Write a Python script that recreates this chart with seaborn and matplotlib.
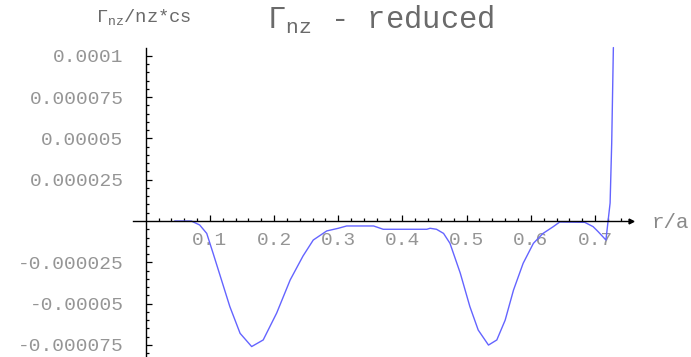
import numpy as np
import pandas as pd
import matplotlib
matplotlib.use("Agg")
import matplotlib.pyplot as plt
from matplotlib.ticker import FixedLocator, FixedFormatter
import seaborn as sns

# ---- data ----
r_over_a = [0.045, 0.071, 0.084, 0.095, 0.105, 0.118, 0.131, 0.147, 0.165, 0.183,
            0.204, 0.225, 0.245, 0.261, 0.282, 0.300, 0.313, 0.355, 0.370, 0.438,
            0.443, 0.453, 0.464, 0.474, 0.490, 0.505, 0.518, 0.534, 0.547, 0.560,
            0.573, 0.588, 0.604, 0.619, 0.635, 0.645, 0.684, 0.697, 0.705, 0.717,
            0.7235, 0.726, 0.7286]
gamma_micro = [0.0, 0.0, -2.4, -7.5, -19.6, -35.7, -51.8, -68.0, -76.0, -72.0,
               -55.7, -35.7, -21.2, -11.5, -6.0, -4.4, -3.0, -3.0, -5.0, -5.0,
               -4.4, -5.0, -7.5, -13.5, -31.5, -51.8, -66.0, -75.1, -72.0, -60.0,
               -41.8, -25.6, -13.5, -7.5, -3.4, -0.6, -0.8, -3.4, -6.5, -11.5,
               10.9, 47.2, 105.0]
gamma = [v * 1e-6 for v in gamma_micro]

x_ticks = [0.1, 0.2, 0.3, 0.4, 0.5, 0.6, 0.7]
x_tick_labels = ["0.1", "0.2", "0.3", "0.4", "0.5", "0.6", "0.7"]
y_ticks = [-0.000075, -0.00005, -0.000025, 0.000025, 0.00005, 0.000075, 0.0001]
y_tick_labels = ["-0.000075", "-0.00005", "-0.000025", "0.000025", "0.00005",
                 "0.000075", "0.0001"]

title_text = r"$\Gamma_{\mathrm{nz}}$ - reduced"
ylabel_text = r"$\Gamma_{\mathrm{nz}}$/nz*cs"
xlabel_text = "r/a"

df = pd.DataFrame({"r": r_over_a, "g": gamma})

sns.set_style("white")
plt.rcParams["font.family"] = ["Liberation Mono", "DejaVu Sans"]
plt.rcParams["mathtext.fontset"] = "custom"
plt.rcParams["mathtext.rm"] = "Liberation Mono"
plt.rcParams["mathtext.it"] = "Liberation Mono"
plt.rcParams["mathtext.bf"] = "Liberation Mono"

W, H = 691, 357
fig = plt.figure(figsize=(W / 100, H / 100), dpi=100)
ax = fig.add_axes([126.5 / W, 0.0, 532.7 / W, 321.0 / H])

sns.lineplot(data=df, x="r", y="g", ax=ax, sort=False, estimator=None,
             color="#6464ff", linewidth=1.0, clip_on=True)

ax.set_xlim(-0.03, 0.80)
ax.set_ylim(-8.232e-5, 1.12e-4)

for s in ["top", "right"]:
    ax.spines[s].set_visible(False)
ax.spines["left"].set_position(("data", 0))
ax.spines["bottom"].set_position(("data", 0))
ax.spines["left"].set_bounds(-8.232e-5, 1.047e-4)
ax.spines["bottom"].set_bounds(-0.02, 0.756)
for s in ["left", "bottom"]:
    ax.spines[s].set_color("black")
    ax.spines[s].set_linewidth(1.0)

# arrow head at the end of the horizontal axis
ax.plot([0.756], [0], marker=">", color="black", markersize=3.5, clip_on=False)

ax.xaxis.set_major_locator(FixedLocator(x_ticks))
ax.xaxis.set_major_formatter(FixedFormatter(x_tick_labels))
ax.xaxis.set_minor_locator(FixedLocator([round(0.02 * i, 2) for i in range(1, 38) if i % 5 != 0]))
ax.yaxis.set_major_locator(FixedLocator(y_ticks))
ax.yaxis.set_major_formatter(FixedFormatter(y_tick_labels))
ax.yaxis.set_minor_locator(FixedLocator([round(5e-6 * i, 8) for i in range(-16, 21) if i % 5 != 0]))

ax.tick_params(axis="both", which="both", bottom=True, left=True, top=False, right=False)
ax.tick_params(axis="both", which="major", direction="in", length=4.5, width=0.9,
               color="black", labelsize=14, labelcolor="#959595")
ax.tick_params(axis="both", which="minor", direction="in", length=2.2, width=0.9,
               color="black")
ax.tick_params(axis="x", which="major", pad=8)
ax.tick_params(axis="y", which="major", pad=16)
ax.set_xlabel("")
ax.set_ylabel("")

fig.text(381 / W, 1 - 20 / H, title_text, ha="center", va="center",
         fontsize=22, color="#6a6a6a")
fig.text(144 / W, 1 - 17 / H, ylabel_text, ha="center", va="center",
         fontsize=13.5, color="#6a6a6a")
fig.text(652 / W, 1 - 222 / H, xlabel_text, ha="left", va="center",
         fontsize=15, color="#8a8a8a")

fig.savefig("out.png", dpi=100)
